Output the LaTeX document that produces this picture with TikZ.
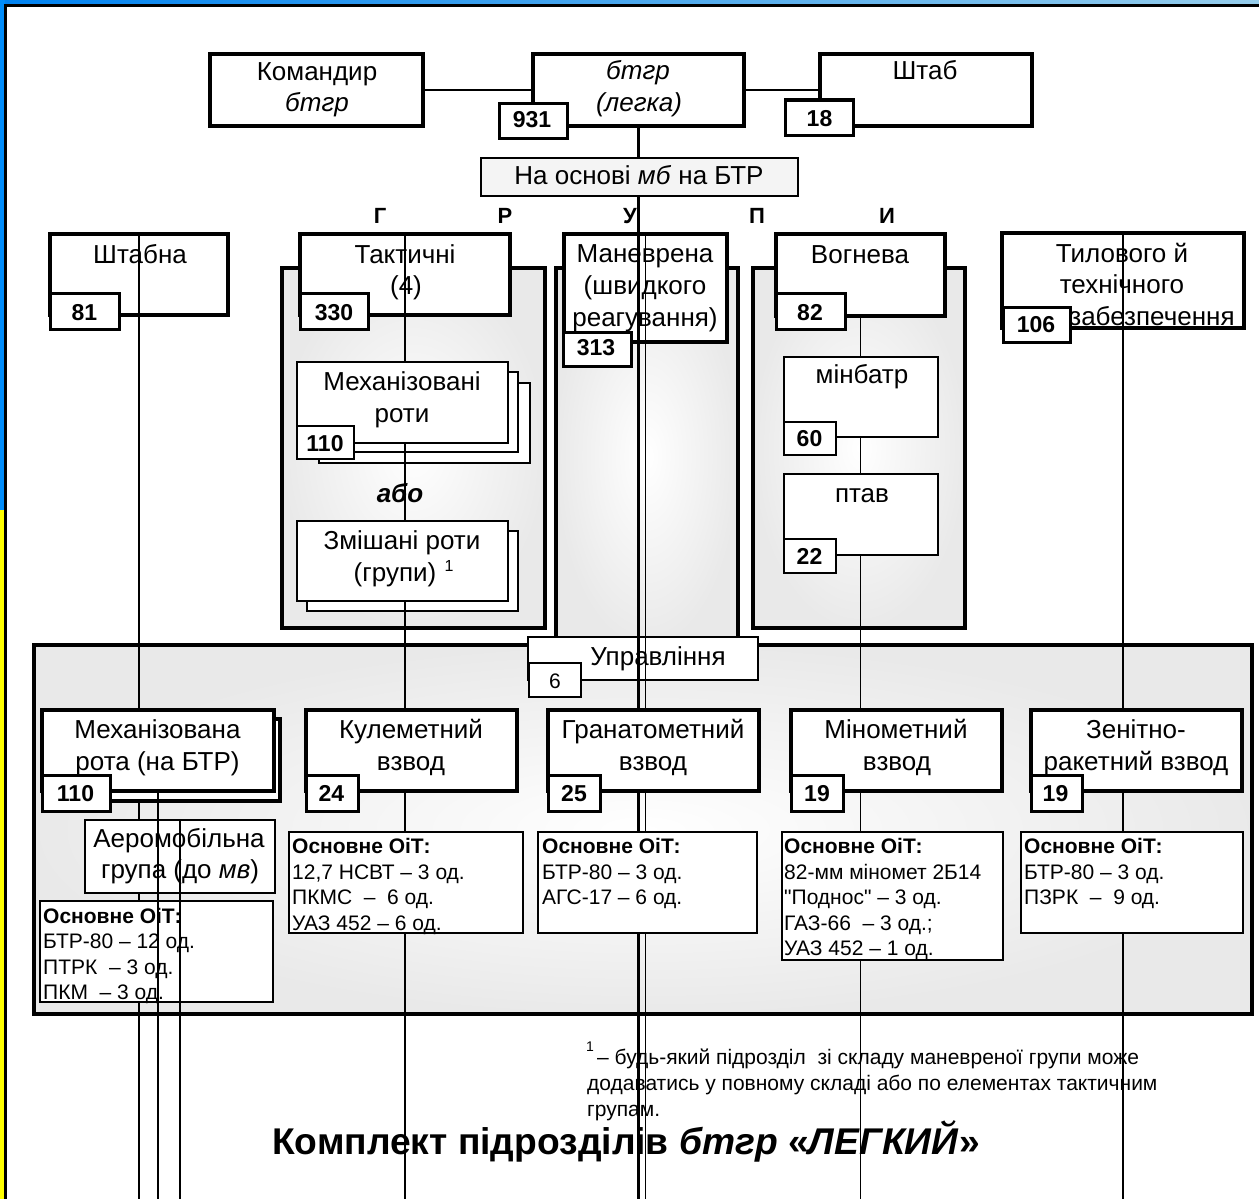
\documentclass[tikz,border=0pt]{standalone}
\usepackage{fontspec}
\setmainfont{Liberation Sans}
\newcommand\LBF{\fontsize{26}{31}\selectfont}
\newcommand\NMF{\fontsize{23}{27}\selectfont\bfseries}
\newcommand\OTF{\fontsize{21}{25}\selectfont}
\newcommand\BX[6]{\node[#1, anchor=north west, minimum width={(#5-#3)*1pt}, minimum height={(#6-#4)*1pt}] (#2) at (#3,#4) {};}
\definecolor{topL}{RGB}{0,130,240}
\definecolor{topR}{RGB}{150,205,235}
\definecolor{sideblue}{RGB}{0,140,250}
\definecolor{sideyel}{RGB}{255,255,0}
\begin{document}
\begin{tikzpicture}[x=1pt,y=-1pt,
  bigbox/.style={draw, line width=3.2pt, fill=white, inner sep=0pt, outer sep=0pt},
  midbox/.style={draw, line width=2.4pt, fill=white, inner sep=0pt, outer sep=0pt},
  numbox/.style={draw, line width=3pt, fill=white, inner sep=0pt, outer sep=0pt},
  thinbox/.style={draw, line width=1.6pt, fill=white, inner sep=0pt, outer sep=0pt},
  grp/.style={draw, line width=3.2pt, inner sep=0pt, outer sep=0pt, inner color=white, outer color=gray!17},
  conn/.style={line width=1.3pt},
  lbl/.style={inner sep=0pt, anchor=base, font=\LBF},
  nm/.style={inner sep=0pt, anchor=base, font=\NMF},
  ot/.style={inner sep=0pt, anchor=base west, font=\OTF},
  otb/.style={inner sep=0pt, anchor=base west, font=\OTF\bfseries},
  fn/.style={inner sep=0pt, anchor=base west, font=\fontsize{21}{24}\selectfont},
  lett/.style={inner sep=0pt, anchor=base, font=\fontsize{22}{26}\selectfont\bfseries}]
\useasboundingbox (0,0) rectangle (1259,1199);
\fill[white] (0,0) rectangle (1259,1199);
\coordinate (bot) at (0,1199);
% frame
\shade[left color=topL, right color=topR] (0,0) rectangle (1259,5);
\fill[sideblue] (0,0) rectangle (5,510);
\fill[sideyel] (0,510) rectangle (5,1199);
\draw[line width=3pt] (5.5,1199) -- (5.5,5.5) -- (1259,5.5);
% group backgrounds
\BX{grp}{gT}{282}{268}{545}{628}
\BX{grp}{gM}{556}{268}{738}{645}
\BX{grp}{gV}{753}{268}{965}{628}
\BX{grp}{gU}{34}{645}{1252}{1014}
% top row
\BX{bigbox}{cmd}{210}{54}{423}{126}
\BX{bigbox}{btgr}{533}{54}{744}{126}
\BX{bigbox}{shtab}{820}{54}{1032}{126}
\draw[conn] (cmd.east) -- (btgr.west);
\draw[conn] (btgr.east) -- (shtab.west);
\node[lbl] (tcmd1) at (317,81) {Командир};
\node[lbl] (tcmd2) at (317,111) {\textit{бтгр}};
\node[lbl] (tbt1) at (638,80) {\textit{бтгр}};
\node[lbl] (tbt2) at (639,111) {\textit{(легка)}};
\node[lbl] (tsh) at (925,80) {Штаб};
\BX{numbox}{n931}{499}{103}{567}{138}
\BX{numbox}{n18}{785}{100}{853}{135}
\node[nm] (t931) at (532,128) {931};
\node[nm] (t18) at (819.5,126) {18};
% second row boxes crossed by lines
\BX{bigbox}{shtabna}{50}{234}{228}{315}
\BX{bigbox}{takt}{300}{234}{510}{315}
\BX{bigbox}{manevr}{564}{234}{727}{342}
\BX{bigbox}{vogn}{776}{234}{945}{316}
\BX{bigbox}{tyl}{1002}{233}{1244}{328}
\node[lbl] (tshn) at (140,263) {Штабна};
\node[lbl] (ttk1) at (405,263) {Тактичні};
\node[lbl] (ttk2) at (406,294) {(4)};
\node[lbl] (tmn1) at (645,262) {Маневрена};
\node[lbl] (tmn2) at (645,294) {(швидкого};
\node[lbl] (tmn3) at (645,326) {реагування)};
\node[lbl] (tvg) at (860,263) {Вогнева};
\node[lbl] (tty1) at (1122,262) {Тилового й};
\node[lbl] (tty2) at (1122,293) {технічного};
\node[lbl] (tty3) at (1152,325) {забезпечення};
% back stacked boxes
\BX{midbox}{mech3}{319}{383}{530}{463}
\BX{midbox}{mech2}{308}{372}{518}{452}
\BX{midbox}{zm2}{307}{531}{518}{611}
% control box (crossed by lines)
\BX{thinbox}{upr}{528}{637}{758}{680}
\node[lbl] (tupr) at (658,665) {Управління};
% long connectors (behind later boxes)
\draw[conn] (shtabna.north) -- (shtabna.north |- bot);
\draw[conn] (takt.north) -- (takt.north |- bot);
\draw[line width=3.2pt] (btgr.south) -- (btgr.south |- bot);
\draw[conn] (manevr.north) -- (manevr.north |- bot);
\draw[conn] (vogn.south) -- (vogn.south |- bot);
\draw[conn] (tyl.north) -- (tyl.north |- bot);
% boxes hiding the connectors
\BX{midbox, fill=gray!9}{osnova}{481}{158}{798}{196}
\node[lbl] (tos) at (639,184) {На основі \textit{мб} на БТР};
\BX{midbox}{mech1}{297}{362}{508}{443}
\node[lbl] (tme1) at (402,390) {Механізовані};
\node[lbl] (tme2) at (402,422) {роти};
\BX{midbox}{zm1}{297}{521}{508}{601}
\node[lbl] (tzm1) at (402,549) {Змішані роти};
\node[lbl] (tzm2) at (395,581) {(групи)};
\node[inner sep=0pt, anchor=base, font=\fontsize{16}{18}\selectfont] (tzm3) at (449,571) {1};
\BX{midbox}{minb}{784}{357}{938}{437}
\node[lbl] (tmb) at (862,383) {мінбатр};
\BX{midbox}{ptav}{784}{474}{938}{555}
\node[lbl] (tpt) at (862,502) {птав};
% number boxes of second row
\BX{numbox}{n81}{50}{293}{119}{329}
\BX{numbox}{n330}{300}{293}{368}{329}
\BX{numbox}{n313}{563}{332}{631}{366}
\BX{numbox}{n82}{776}{293}{845}{329}
\BX{numbox}{n106}{1003}{307}{1070}{342}
\BX{midbox}{n110a}{297}{426}{354}{459}
\BX{midbox}{n60}{784}{422}{836}{455}
\BX{midbox}{n22}{784}{539}{836}{573}
\node[nm] (t81) at (84.5,320) {81};
\node[nm] (t330) at (334,320) {330};
\node[nm] (t313) at (596,355) {313};
\node[nm] (t82) at (810,320) {82};
\node[nm] (t106) at (1036,332) {106};
\node[nm] (t110a) at (325,451) {110};
\node[nm] (t60) at (809.5,446) {60};
\node[nm] (t22) at (809.5,564) {22};
\BX{thinbox}{n6}{529}{663}{581}{697}
\node[inner sep=0pt, anchor=base, font=\fontsize{21}{25}\selectfont] (t6) at (555,688) {6};
% bottom row
\BX{bigbox}{mrb}{50}{719}{280}{801}
\BX{bigbox}{mr}{42}{710}{274}{791}
\BX{bigbox}{kul}{306}{710}{517}{791}
\BX{bigbox}{gran}{548}{710}{759}{791}
\BX{bigbox}{min}{791}{710}{1002}{791}
\BX{bigbox}{zen}{1031}{710}{1242}{791}
\node[lbl] (tmr1) at (157.5,738) {Механізована};
\node[lbl] (tmr2) at (157.5,770) {рота (на БТР)};
\node[lbl] (tku1) at (411,738) {Кулеметний};
\node[lbl] (tku2) at (411,770) {взвод};
\node[lbl] (tgr1) at (653,738) {Гранатометний};
\node[lbl] (tgr2) at (653,770) {взвод};
\node[lbl] (tmi1) at (896,738) {Мінометний};
\node[lbl] (tmi2) at (897,770) {взвод};
\node[lbl] (tze1) at (1136,738) {Зенітно-};
\node[lbl] (tze2) at (1136,770) {ракетний взвод};
\BX{numbox}{n110b}{42}{775}{110}{811}
\BX{numbox}{n24}{306}{775}{358}{811}
\BX{numbox}{n25}{548}{775}{600}{811}
\BX{numbox}{n19a}{791}{775}{843}{811}
\BX{numbox}{n19b}{1031}{775}{1082}{811}
\node[nm] (t110b) at (75.5,801) {110};
\node[nm] (t24) at (331.5,801) {24};
\node[nm] (t25) at (574,801) {25};
\node[nm] (t19a) at (817,801) {19};
\node[nm] (t19b) at (1055.5,801) {19};
% equipment boxes
\BX{thinbox}{aero}{85}{820}{275}{893}
\BX{thinbox}{oit1}{40}{901}{273}{1002}
\BX{thinbox}{oit2}{289}{832}{523}{933}
\BX{thinbox}{oit3}{538}{832}{757}{933}
\BX{thinbox}{oit4}{782}{832}{1003}{960}
\BX{thinbox}{oit5}{1021}{832}{1243}{933}
\node[lbl] (tae1) at (179,847) {Аеромобільна};
\node[lbl] (tae2) at (180,878) {група (до \textit{мв})};
\node[otb] (to11) at (43,923) {Основне ОіТ:};
\node[ot] (to12) at (43,948) {БТР-80 – 12 од.};
\node[ot] (to13) at (43,974) {ПТРК~ – 3 од.};
\node[ot] (to14) at (43,999) {ПКМ~ – 3 од.};
\node[otb] (to21) at (292,853) {Основне ОіТ:};
\node[ot] (to22) at (292,879) {12,7 НСВТ – 3 од.};
\node[ot] (to23) at (292,904) {ПКМС~ –~ 6 од.};
\node[ot] (to24) at (292,930) {УАЗ 452 – 6 од.};
\node[otb] (to31) at (542,853) {Основне ОіТ:};
\node[ot] (to32) at (542,879) {БТР-80 – 3 од.};
\node[ot] (to33) at (542,904) {АГС-17 – 6 од.};
\node[otb] (to41) at (784,853) {Основне ОіТ:};
\node[ot] (to42) at (784,879) {82-мм міномет 2Б14};
\node[ot] (to43) at (784,904) {\textquotedbl Поднос\textquotedbl{} – 3 од.};
\node[ot] (to44) at (784,930) {ГАЗ-66~ – 3 од.;};
\node[ot] (to45) at (784,955) {УАЗ 452 – 1 од.};
\node[otb] (to51) at (1024,853) {Основне ОіТ:};
\node[ot] (to52) at (1024,879) {БТР-80 – 3 од.};
\node[ot] (to53) at (1024,904) {ПЗРК~ –~ 9 од.};
% connectors drawn on top
\draw[line width=2pt] (mr.south) -- (mr.south |- bot);
\draw[line width=1.8pt] (aero.north) -- (aero.north |- bot);
% free texts
\node[lett] (lG) at (380,223) {Г};
\node[lett] (lR) at (505,223) {Р};
\node[lett] (lU) at (630,223) {У};
\node[lett] (lP) at (757,223) {П};
\node[lett] (lI) at (887,223) {И};
\node[inner sep=0pt, anchor=base, font=\fontsize{26}{30}\selectfont\bfseries\itshape] (abo) at (400,502) {або};
\node[inner sep=0pt, anchor=base west, font=\fontsize{14}{16}\selectfont] (fn0) at (586,1051) {1};
\node[fn] (fn1) at (597,1064) {– будь-який підрозділ~ зі складу маневреної групи може};
\node[fn] (fn2) at (587,1090) {додаватись у повному складі або по елементах тактичним};
\node[fn] (fn3) at (587,1116) {групам.};
\node[inner sep=0pt, anchor=base, font=\fontsize{37.2}{40}\selectfont\bfseries] (title) at (626,1154) {Комплект підрозділів \textit{бтгр} «\textit{ЛЕГКИЙ}»};
\end{tikzpicture}
\end{document}
